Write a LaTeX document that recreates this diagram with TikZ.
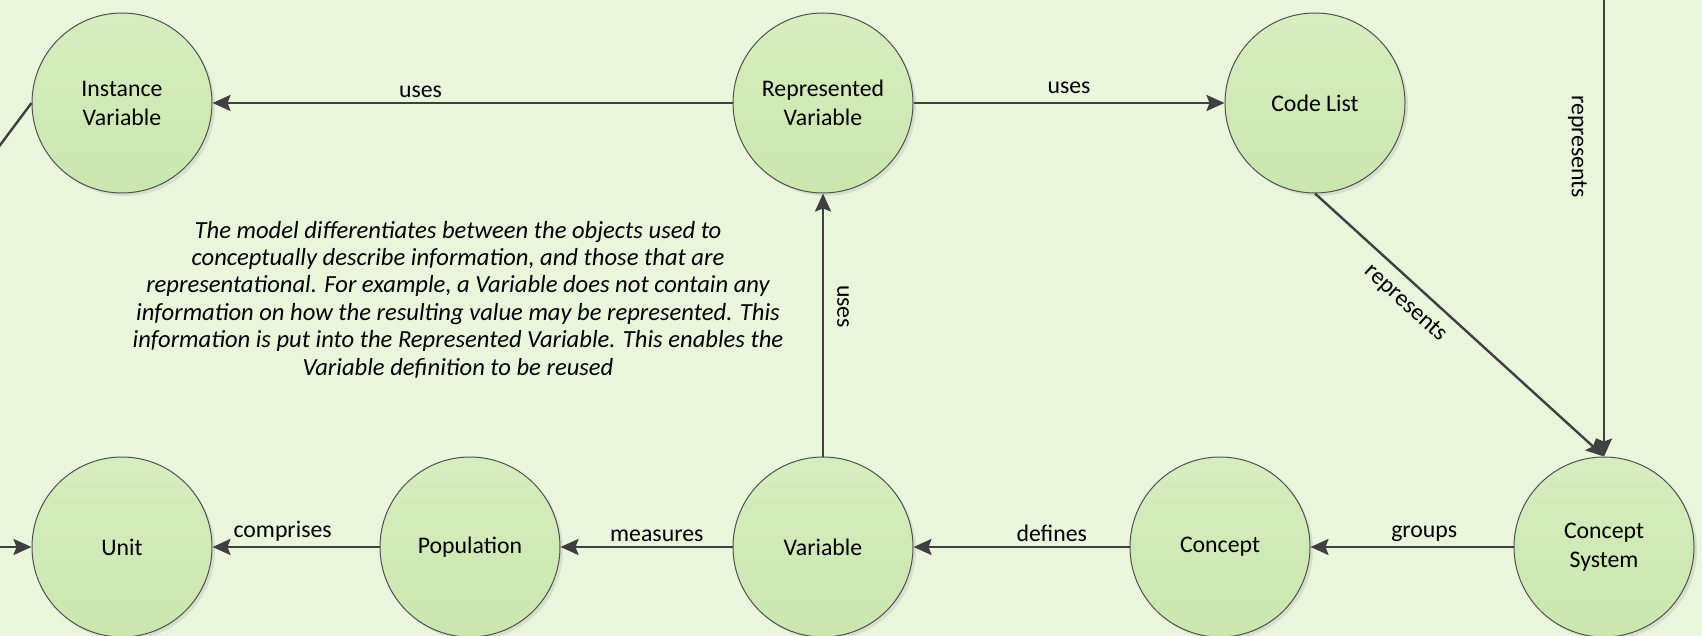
\documentclass[tikz,border=0pt]{standalone}
\usepackage{fontspec}
\setmainfont{Carlito}
\usetikzlibrary{arrows.meta,positioning,shadows}

\definecolor{bggreen}{RGB}{234,246,220}
\definecolor{nodetop}{RGB}{214,237,192}
\definecolor{nodebottom}{RGB}{202,231,174}
\definecolor{linegray}{RGB}{64,64,64}
\definecolor{rimgray}{RGB}{80,80,80}

\begin{document}
\begin{tikzpicture}[
                font=\fontsize{11.9pt}{14.5pt}\selectfont,
                on grid,
                entity/.style={circle, draw=rimgray, line width=0.5pt, top color=nodetop, bottom color=nodebottom,
                               minimum size=90pt, inner sep=0pt, align=center,
                               drop shadow={opacity=0.18, shadow xshift=1.5pt, shadow yshift=-1.5pt}},
                arrow/.style={draw=linegray, line width=1.2pt, -{Stealth[length=9pt, width=8pt, inset=1.5pt]}},
                link/.style={draw=linegray, line width=1.2pt},
                lbl/.style={inner sep=2pt}
                ]

                \useasboundingbox (0,0) rectangle (851pt,-318pt);
                \fill[bggreen] (0,0) rectangle (851pt,-318pt);

                \node[entity] (unit) at (61pt,-273.5pt) {Unit};
                \node[entity] (pop) [right=174pt of unit] {Population};
                \node[entity] (var) [right=176.5pt of pop] {Variable};
                \node[entity] (con) [right=198.5pt of var] {Concept};
                \node[entity] (csys) [right=192pt of con] {Concept\\System};
                \node[entity] (rvar) [above=222pt of var] {Represented\\Variable};
                \node[entity] (ivar) [left=350.5pt of rvar] {Instance\\Variable};
                \node[entity] (clist) [right=246pt of rvar] {Code List};

                \node[font=\itshape\fontsize{12.3pt}{13.7pt}\selectfont, align=center] (note) at (229pt,-149.75pt)
                    {The model differentiates between the objects used to\\
                     conceptually describe information, and those that are\\
                     representational. For example, a Variable does not contain any\\
                     information on how the resulting value may be represented. This\\
                     information is put into the Represented Variable. This enables the\\
                     Variable definition to be reused};

                % ends that run off the page
                \coordinate (unitin) at (-10pt,-273.5pt);
                \coordinate (ivarin) at (-10pt,-86pt);
                \coordinate (cstop) at (csys.north |- 0,10pt);

                \draw[arrow] (rvar) -- node[lbl, above, pos=0.6] {uses} (ivar);
                \draw[arrow] (rvar) -- node[lbl, above, yshift=2pt] {uses} (clist);
                \draw[arrow] (var) -- node[pos=0.57, rotate=-90, anchor=south, inner sep=6.5pt] {uses} (rvar);
                \draw[arrow] (clist.south) -- node[pos=0.36, sloped, below, inner sep=5pt] {represents} (csys.north);
                \draw[arrow] (cstop) -- node[pos=0.35, rotate=-90, anchor=north, inner sep=8pt] {represents} (csys);

                \draw[arrow] (pop) -- node[lbl, above, pos=0.58] {comprises} (unit);
                \draw[arrow] (var) -- node[lbl, above, pos=0.44] {measures} (pop);
                \draw[arrow] (con) -- node[lbl, above, pos=0.36] {defines} (var);
                \draw[arrow] (csys) -- node[lbl, above, pos=0.44] {groups} (con);

                \draw[arrow] (unitin) -- (unit);
                \draw[link] (ivarin) -- (ivar.west);
\end{tikzpicture}
\end{document}
